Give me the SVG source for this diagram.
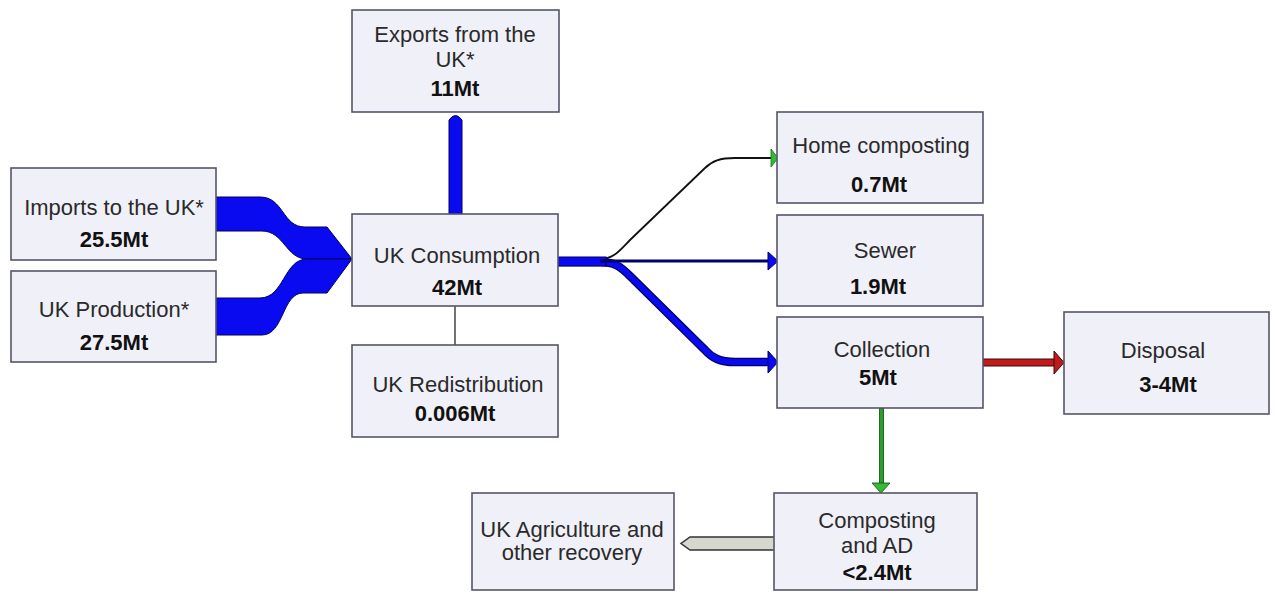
<svg xmlns="http://www.w3.org/2000/svg" width="1275" height="594" viewBox="0 0 1275 594">
<style>
.box{fill:#f0f0f8;stroke:#55556a;stroke-width:1.6}
.t{font-family:"Liberation Sans",Arial,sans-serif;font-size:22px;fill:#2a2a2a;text-anchor:middle}
.b{font-family:"Liberation Sans",Arial,sans-serif;font-size:22px;font-weight:bold;fill:#111;text-anchor:middle}
.blue{fill:#0a0af0;stroke:#000060;stroke-width:1}
</style>
<rect width="1275" height="594" fill="#ffffff"/>
<g id="connectors">
<path class="blue" d="M216,197 L260,197 C284,197 282,227 305,227 L327,227 L352,259 L307,259 C286,259 284,231 262,231 L216,231 Z"/>
<path class="blue" d="M216,298 L260,298 C284,298 284,259 307,259 L352,259 L327,293 L303,293 C282,293 284,335 262,335 L216,335 Z"/>
<path class="blue" d="M449,214 L449,120 Q455.5,111 462,120 L462,214 Z"/>
<line x1="455" y1="306" x2="455" y2="345" stroke="#444" stroke-width="1.5"/>
<path d="M600,259 C614,259 620,250 630,240 L705,168 C712,161 720,158 735,158 L772,158" fill="none" stroke="#111" stroke-width="1.8"/>
<polygon points="771,149 778,158 771,167" fill="#33bb33" stroke="#1a6a1a" stroke-width="0.8"/>
<path d="M558,262 L600,262 C614,262 620,266 630,276 L705,350 C712,358 720,362 735,362 L770,362" fill="none" stroke="#000060" stroke-width="8.5"/>
<path d="M558,262 L600,262 C614,262 620,266 630,276 L705,350 C712,358 720,362 735,362 L770,362" fill="none" stroke="#0a0af0" stroke-width="6"/>
<rect class="blue" x="558" y="257" width="48" height="9"/>
<path d="M600,261 L771,261" fill="none" stroke="#00006e" stroke-width="3"/>
<polygon points="768,252 778,261 768,270" fill="#0a0af0" stroke="#000060" stroke-width="1"/>
<polygon points="768,351 778,362 768,373" fill="#0a0af0" stroke="#000060" stroke-width="1"/>
<rect x="983" y="359" width="73" height="7" fill="#c01a1a" stroke="#3a0a0a" stroke-width="1"/>
<polygon points="1054,351 1064,362.5 1054,374" fill="#c01a1a" stroke="#3a0a0a" stroke-width="1"/>
<rect x="879.5" y="408" width="4" height="76" fill="#2aa02a" stroke="#124a12" stroke-width="0.8"/>
<polygon points="872,483 890,483 881,493" fill="#33bb33" stroke="#124a12" stroke-width="0.8"/>
<polygon points="777,537 690,537 681,543.5 690,550 777,550" fill="#d6d8cf" stroke="#333" stroke-width="1.5"/>
</g>
<g id="imports"><rect class="box" x="11" y="168" width="205" height="92"/><text class="t" x="114" y="215">Imports to the UK*</text><text class="b" x="114" y="247">25.5Mt</text></g>
<g id="production"><rect class="box" x="11" y="271" width="205" height="91"/><text class="t" x="114" y="317">UK Production*</text><text class="b" x="114" y="350">27.5Mt</text></g>
<g id="exports"><rect class="box" x="352" y="10" width="207" height="102"/><text class="t" x="455" y="42">Exports from the</text><text class="t" x="455" y="67">UK*</text><text class="b" x="455" y="96">11Mt</text></g>
<g id="consumption"><rect class="box" x="352" y="214" width="206" height="92"/><text class="t" x="457" y="263">UK Consumption</text><text class="b" x="457" y="295">42Mt</text></g>
<g id="redistribution"><rect class="box" x="352" y="345" width="206" height="92"/><text class="t" x="458" y="392">UK Redistribution</text><text class="b" x="455" y="421">0.006Mt</text></g>
<g id="home"><rect class="box" x="777" y="112" width="206" height="91"/><text class="t" x="881" y="153">Home composting</text><text class="b" x="879" y="192">0.7Mt</text></g>
<g id="sewer"><rect class="box" x="777" y="215" width="206" height="91"/><text class="t" x="885" y="258">Sewer</text><text class="b" x="878" y="294">1.9Mt</text></g>
<g id="collection"><rect class="box" x="777" y="317" width="206" height="91"/><text class="t" x="882" y="357">Collection</text><text class="b" x="878" y="385">5Mt</text></g>
<g id="disposal"><rect class="box" x="1064" y="312" width="205" height="102"/><text class="t" x="1163" y="358">Disposal</text><text class="b" x="1168" y="392">3-4Mt</text></g>
<g id="composting"><rect class="box" x="774" y="493" width="203" height="97"/><text class="t" x="877" y="528">Composting</text><text class="t" x="877" y="553">and AD</text><text class="b" x="877" y="580">&lt;2.4Mt</text></g>
<g id="agriculture"><rect class="box" x="472" y="493" width="202" height="97"/><text class="t" x="572" y="537">UK Agriculture and</text><text class="t" x="572" y="560">other recovery</text></g>
</svg>
